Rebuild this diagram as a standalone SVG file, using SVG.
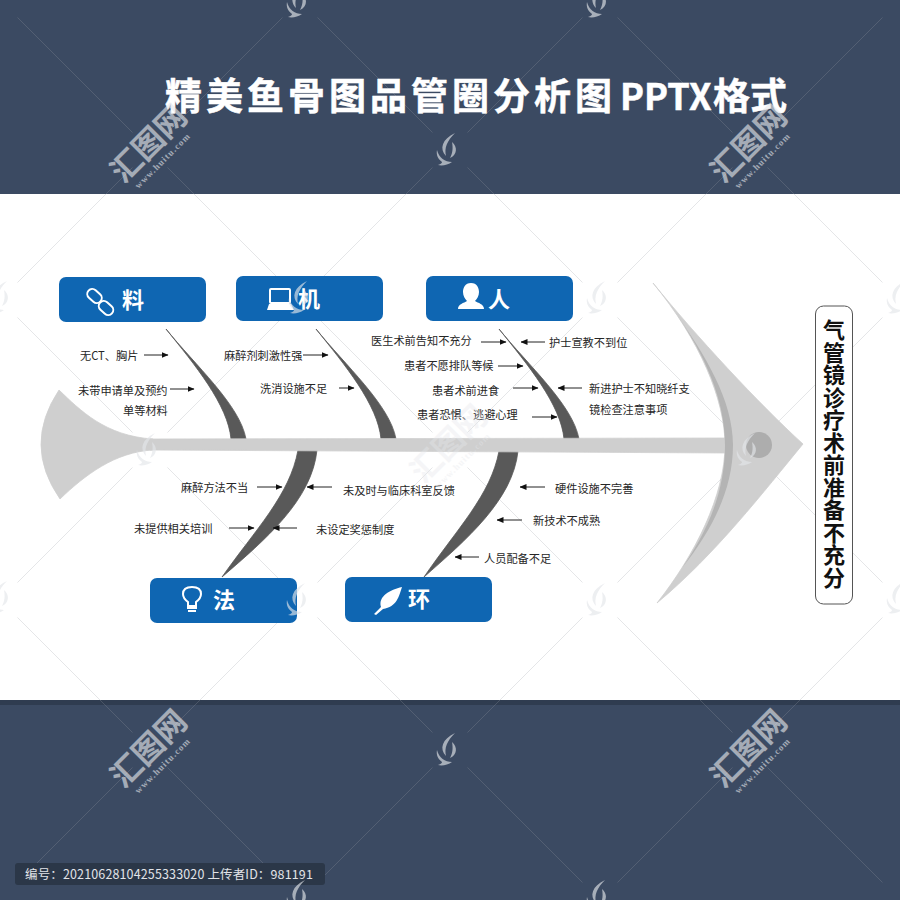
<svg xmlns="http://www.w3.org/2000/svg" xmlns:xlink="http://www.w3.org/1999/xlink" width="900" height="900" viewBox="0 0 900 900">
<style>
text{font-family:"Noto Sans CJK SC","Noto Sans",sans-serif}
.t{font-size:11.2px;fill:#262626}
.n{font-size:22px;font-weight:700;fill:#fff}
.box{fill:#0f66b2}
.bone{fill:#595959;stroke:#595959;stroke-width:.8}
.fish{fill:#cfcfcf;stroke:#cfcfcf;stroke-width:.8}
.a{stroke:#222;stroke-width:1;fill:none;marker-end:url(#ah)}
.lat{stroke:#9aa0a8;stroke-width:1;fill:none;opacity:.26;stroke-dasharray:162.6 49.53}
.ic{fill:none;stroke:#fff;stroke-width:2}
.icf{fill:#fff}
.wm{fill:#e6e8ec;opacity:.62}
.wmt{font-family:"Liberation Serif",serif;font-size:9px;font-weight:700;letter-spacing:1.1px;fill:#e6e8ec;opacity:.62}
</style>
<defs>
<marker id="ah" markerUnits="userSpaceOnUse" markerWidth="7" markerHeight="6" refX="6.5" refY="3" orient="auto"><path d="M0,0 L7,3 L0,6 Z" fill="#111"/></marker>
<g id="logo"><path d="M7,-17 C-6,-11 -9,-1 -2,6 C-4,-2 -1,-9 7,-17Z"/><path d="M4,-8 C10,-3 9,5 2,8 C5,3 5,-3 4,-8Z"/><path d="M-11,0 C-9,8 -3,12 4,12 C0,15 -6,16 -10,15 C-7,14 -6,13 -6,12 C-10,9 -12,5 -11,0Z"/></g>
<g id="big"><text class="wm" x="0" y="16" text-anchor="middle" font-size="31" font-weight="700">汇图网</text><text class="wmt" x="-2" y="30" text-anchor="middle">www.huitu.com</text></g>
</defs>

<rect width="900" height="900" fill="#3b4a62"/>
<rect x="0" y="700" width="900" height="5" fill="#222c3b" opacity=".45"/>
<rect x="0" y="194" width="900" height="506" fill="#fff"/>

<g id="lattice">
<path class="lat" d="M17.5,617.5 L300,900"/>
<path class="lat" d="M17.5,317.5 L600,900"/>
<path class="lat" d="M17.5,17.5 L900,900"/>
<path class="lat" d="M317.5,17.5 L900,600"/>
<path class="lat" d="M617.5,17.5 L900,300"/>
<path class="lat" d="M17.5,282.5 L300,0"/>
<path class="lat" d="M17.5,582.5 L600,0"/>
<path class="lat" d="M17.5,882.5 L900,0"/>
<path class="lat" d="M317.5,882.5 L900,300"/>
<path class="lat" d="M617.5,882.5 L900,600"/>
</g>

<text id="title" y="110" font-size="37" font-weight="700" fill="#fff" stroke="#fff" stroke-width=".5"><tspan x="165" letter-spacing="4">精美鱼骨图品管圈分析图</tspan><tspan x="620" font-size="36">PPTX</tspan><tspan x="713">格式</tspan></text>

<g id="connectors">
<path class="bone" d="M166,329 C195,365 240,405 246,439 L231,439 C228,405 195,365 166,329Z"/>
<path class="bone" d="M316,329 C345,365 390,405 396,439 L381,439 C378,405 345,365 316,329Z"/>
<path class="bone" d="M499,329 C528,365 573,405 579,439 L564,439 C561,405 528,365 499,329Z"/>
<path class="bone" d="M222,577 C265,540 312,500 317,450 L298,450 C290,495 255,530 222,577Z"/>
<path class="bone" d="M424,577 C466,540 513,500 518,451 L499,451 C491,495 456,530 424,577Z"/>
<path class="a" d="M144,355 H168"/>
<path class="a" d="M170,389 H194"/>
<path class="a" d="M303,355 H328"/>
<path class="a" d="M339,388 H354"/>
<path class="a" d="M481,342 H506"/>
<path class="a" d="M498,366 H523"/>
<path class="a" d="M513,388 H538"/>
<path class="a" d="M532,417 H557"/>
<path class="a" d="M545,342 H521"/>
<path class="a" d="M582,388 H558"/>
<path class="a" d="M257,487 H282"/>
<path class="a" d="M229,528 H254"/>
<path class="a" d="M332,487 H307"/>
<path class="a" d="M297,528 H273"/>
<path class="a" d="M545,487 H520"/>
<path class="a" d="M522,520 H497"/>
<path class="a" d="M479,557 H455"/>
</g>

<g id="fish">
<path class="fish" d="M59,390 C80,410 105,436 153,439 L153,450 C115,452 85,475 60,499 Q22.5,445 59,390Z"/>
<path class="fish" d="M150,439 L728,438 L728,453 L150,450Z"/>
<path class="fish" d="M653,283 C695,335 760,405 803,444 C765,490 715,555 657,603 C695,555 725,495 725,445 C725,400 700,340 653,283Z"/>
<path d="M675,312 C705,355 733,400 733,445 C733,490 712,530 682,568 C705,535 725,495 725,445 C725,400 705,355 675,312Z" fill="#b4b4b4"/>
<circle cx="759" cy="445" r="13" fill="#adadad"/>
</g>

<g id="node-liao">
<rect class="box" x="59" y="277" width="147" height="45" rx="7"/>
<rect class="ic" x="86.500" y="291" width="16" height="10" rx="5" stroke-width="3" transform="rotate(42 94.500 296)"/>
<rect class="ic" x="98" y="303" width="16" height="10" rx="5" stroke-width="3" transform="rotate(42 106 308)"/>
<text class="n" x="122" y="308">料</text>
</g>
<g id="node-ji">
<rect class="box" x="236" y="276" width="147" height="45" rx="7"/>
<rect class="ic" x="270" y="289" width="20" height="14" rx="1" stroke-width="1.500"/>
<path class="icf" d="M269,304 H291 L294,310 H267Z"/>
<text class="n" x="298" y="307">机</text>
</g>
<g id="node-ren">
<rect class="box" x="426" y="276" width="147" height="45" rx="7"/>
<path class="icf" d="M471,283 C477,283 479,288 479,292 C479,296 477,299 475,301 C478,303 484,304 484,309 H458 C458,304 464,303 467,301 C465,299 463,296 463,292 C463,288 465,283 471,283Z"/>
<text class="n" x="488" y="307">人</text>
</g>
<g id="node-fa">
<rect class="box" x="150" y="578" width="147" height="45" rx="7"/>
<path class="ic" d="M188,606 V602 C184,599 183,596 183,594 C183,589 187,587 192,587 C197,587 201,589 201,594 C201,596 200,599 196,602 V606Z" stroke-width="1.800"/>
<path class="ic" d="M187,608 H197 M188,611 H196" stroke-width="1.800"/>
<text class="n" x="213" y="608">法</text>
</g>
<g id="node-huan">
<rect class="box" x="345" y="577" width="147" height="45" rx="7"/>
<path class="icf" d="M402,587 C399,596 397,607 383,609 L376,615 L374,614 L381,607 C378,596 390,590 402,587Z"/>
<text class="n" x="408" y="607">环</text>
</g>

<g id="labels">
<text class="t" x="80" y="360">无CT、胸片</text>
<text class="t" x="78" y="395">未带申请单及预约</text>
<text class="t" x="123" y="415">单等材料</text>
<text class="t" x="224" y="360">麻醉剂刺激性强</text>
<text class="t" x="260" y="393">洗消设施不足</text>
<text class="t" x="371" y="345">医生术前告知不充分</text>
<text class="t" x="404" y="370">患者不愿排队等候</text>
<text class="t" x="432" y="395">患者术前进食</text>
<text class="t" x="417" y="419">患者恐惧、逃避心理</text>
<text class="t" x="549" y="347">护士宣教不到位</text>
<text class="t" x="589" y="393">新进护士不知晓纤支</text>
<text class="t" x="589" y="414">镜检查注意事项</text>
<text class="t" x="181" y="492">麻醉方法不当</text>
<text class="t" x="134" y="533">未提供相关培训</text>
<text class="t" x="343" y="495">未及时与临床科室反馈</text>
<text class="t" x="316" y="534">未设定奖惩制度</text>
<text class="t" x="555" y="493">硬件设施不完善</text>
<text class="t" x="533" y="525">新技术不成熟</text>
<text class="t" x="484" y="563">人员配备不足</text>
</g>

<g id="node-effect">
<rect x="815.500" y="306" width="37" height="298" rx="8" fill="#fff" stroke="#555" stroke-width="1"/>
<text x="834" y="319" style="writing-mode:vertical-rl;text-orientation:upright" font-size="22" font-weight="700" letter-spacing=".5" fill="#111">气管镜诊疗术前准备不充分</text>
</g>

<g id="footer">
<rect x="15" y="863" width="310" height="22" rx="3" fill="#2b3748"/>
<text x="25" y="879" font-size="12.500" letter-spacing=".14" fill="#e2e4e8">编号：20210628104255333020 上传者ID：981191</text>
</g>

<g id="watermark">
<use xlink:href="#big" href="#big" transform="translate(145,140) rotate(-45)"/>
<use xlink:href="#big" href="#big" transform="translate(745,140) rotate(-45)"/>
<g opacity=".6"><use xlink:href="#big" href="#big" transform="translate(445,440) rotate(-45)"/></g>
<use xlink:href="#big" href="#big" transform="translate(145,745) rotate(-45)"/>
<use xlink:href="#big" href="#big" transform="translate(745,745) rotate(-45)"/>
<g fill="#e4e6ea" opacity=".65">
<use xlink:href="#logo" href="#logo" x="298" y="2"/>
<use xlink:href="#logo" href="#logo" x="598" y="2"/>
<use xlink:href="#logo" href="#logo" x="448" y="150"/>
<use xlink:href="#logo" href="#logo" x="0" y="298"/>
<use xlink:href="#logo" href="#logo" x="300" y="298"/>
<use xlink:href="#logo" href="#logo" x="598" y="298"/>
<use xlink:href="#logo" href="#logo" x="898" y="298"/>
<use xlink:href="#logo" href="#logo" x="148" y="450"/>
<use xlink:href="#logo" href="#logo" x="748" y="450"/>
<use xlink:href="#logo" href="#logo" x="0" y="598"/>
<use xlink:href="#logo" href="#logo" x="298" y="600"/>
<use xlink:href="#logo" href="#logo" x="598" y="600"/>
<use xlink:href="#logo" href="#logo" x="898" y="598"/>
<use xlink:href="#logo" href="#logo" x="448" y="750"/>
<use xlink:href="#logo" href="#logo" x="298" y="897"/>
<use xlink:href="#logo" href="#logo" x="598" y="897"/>
</g>
</g>
</svg>
